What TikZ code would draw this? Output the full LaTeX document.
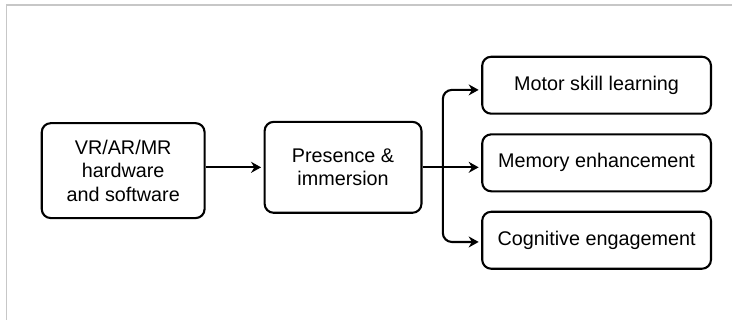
\documentclass[tikz,border=0pt]{standalone}
\usepackage{fontspec}
\setmainfont{Liberation Sans}
\usetikzlibrary{positioning,arrows.meta}

\begin{document}
\begin{tikzpicture}[x=1pt,y=-1pt,>={Stealth[length=10pt,width=11pt]},
  box/.style={draw,line width=2.1pt,rounded corners=9pt,align=center,inner sep=0pt,
    font=\fontsize{19.8}{23.4}\selectfont,text=black},
  outbox/.style={box,minimum width=229pt,minimum height=57pt},
  link/.style={line width=2.1pt,->,shorten >=2.5pt}]
  \fill[white] (0,0) rectangle (733,320);
  \draw[black!22,line width=1.5pt] (6.5,320) -- (6.5,5) -- (733,5);
  % input and middle stage
  \node[box,minimum width=163pt,minimum height=95pt] (src) at (123.3,170.8) {VR/AR/MR\\hardware\\and software};
  \node[box,minimum width=157pt,minimum height=91pt] (pres) at (343.4,167.5) {Presence \&\\immersion};
  % outcomes
  \node[outbox] (motor) at (597.2,85.3) {Motor skill learning};
  \node[outbox] (mem) at (597.2,163) {Memory enhancement};
  \node[outbox] (cog) at (597.2,240.5) {Cognitive engagement};
  \coordinate (split) at (443.3,167.5);
  \draw[link] (src.east |- pres.west) -- (pres.west);
  \draw[link] (pres.east) -- (pres.east -| mem.west);
  \draw[link,rounded corners=9pt] (split) |- ([yshift=-4.7pt]motor.west);
  \draw[link,rounded corners=9pt] (split) |- ([yshift=-1.7pt]cog.west);
\end{tikzpicture}
\end{document}
